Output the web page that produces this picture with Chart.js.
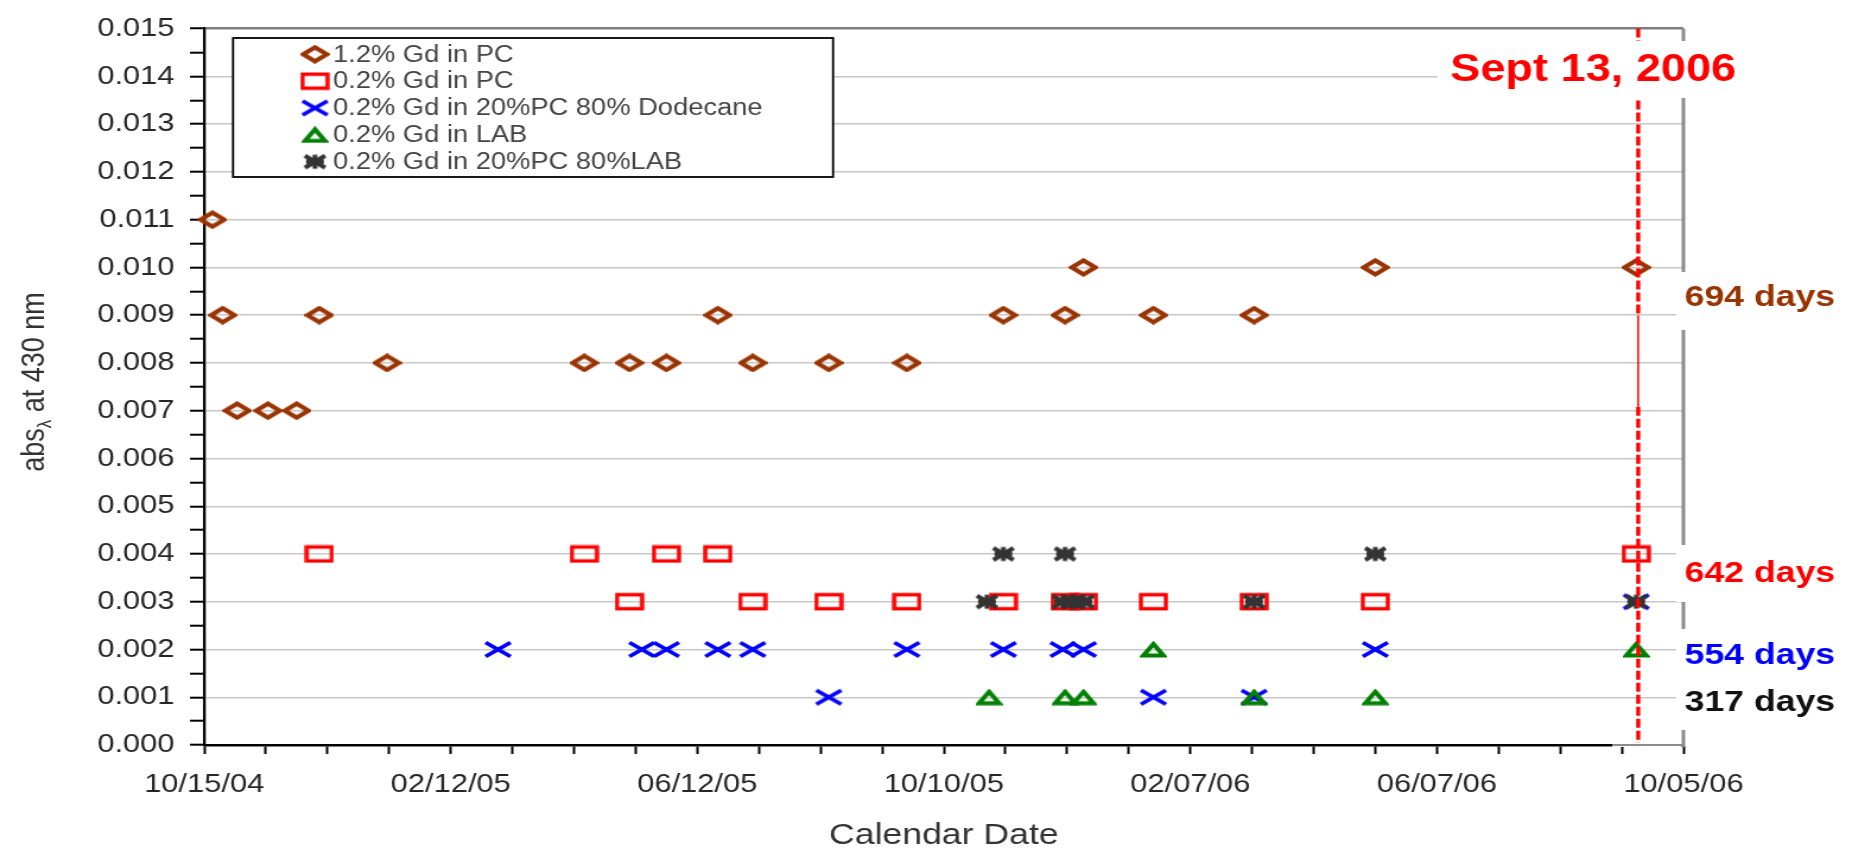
<!DOCTYPE html>
<html>
<head>
<meta charset="utf-8">
<title>Absorbance at 430 nm vs calendar date</title>
<script src="https://cdn.jsdelivr.net/npm/chart.js@4.4.1/dist/chart.umd.min.js"></script>
<style>
  html, body { margin: 0; padding: 0; background: #fff; overflow: hidden; }
</style>
</head>
<body>
<!-- the original picture is stretched sideways, so the canvas is drawn narrow and widened by its inline style -->
<canvas id="chart" width="1560" height="850" style="display:block;width:1852px;height:850px"></canvas>
<script>
// Measurement dates (MM/DD/YY) and abs at 430 nm, one pair of lists per sample
const pc12Dates = ['10/19/04', '10/24/04', '10/31/04', '11/15/04', '11/29/04', '12/10/04', '01/12/05',
                   '04/18/05', '05/10/05', '05/28/05', '06/22/05', '07/09/05', '08/15/05', '09/22/05',
                   '11/08/05', '12/08/05', '12/17/05', '01/20/06', '03/10/06', '05/08/06', '09/12/06'];
const pc12Abs = [0.011, 0.009, 0.007, 0.007, 0.007, 0.009, 0.008,
                 0.008, 0.008, 0.008, 0.009, 0.008, 0.008, 0.008,
                 0.009, 0.009, 0.010, 0.009, 0.009, 0.010, 0.010];

const pc02Dates = ['12/10/04', '04/18/05', '05/10/05', '05/28/05', '06/22/05', '07/09/05', '08/15/05',
                   '09/22/05', '11/08/05', '12/08/05', '12/17/05', '01/20/06', '03/10/06', '05/08/06',
                   '09/12/06'];
const pc02Abs = [0.004, 0.004, 0.003, 0.004, 0.004, 0.003, 0.003,
                 0.003, 0.003, 0.003, 0.003, 0.003, 0.003, 0.003,
                 0.004];

const dodDates = ['03/07/05', '05/16/05', '05/28/05', '06/22/05', '07/09/05', '08/15/05', '09/22/05',
                  '11/08/05', '12/07/05', '12/17/05', '01/20/06', '03/10/06', '05/08/06', '09/12/06'];
const dodAbs = [0.002, 0.002, 0.002, 0.002, 0.002, 0.001, 0.002,
                0.002, 0.002, 0.002, 0.001, 0.001, 0.002, 0.003];

const labDates = ['11/01/05', '12/08/05', '12/17/05', '01/20/06', '03/10/06', '05/08/06', '09/12/06'];
const labAbs = [0.001, 0.001, 0.001, 0.002, 0.001, 0.001, 0.002];

const mixDates = ['10/31/05', '11/08/05', '12/08/05', '12/07/05', '12/12/05', '12/17/05',
                  '03/10/06', '05/08/06', '09/12/06'];
const mixAbs = [0.003, 0.004, 0.004, 0.003, 0.003, 0.003, 0.003, 0.004, 0.003];

const seriesLabels = ['1.2% Gd in PC', '0.2% Gd in PC', '0.2% Gd in 20%PC 80% Dodecane',
                      '0.2% Gd in LAB', '0.2% Gd in 20%PC 80%LAB'];
const xTickDates = ['10/15/04', '02/12/05', '06/12/05', '10/10/05', '02/07/06', '06/07/06', '10/05/06'];
const cutoffDate = '09/13/06';
const cutoffLabel = 'Sept 13, 2006';
const lifetimeLabels = ['694 days', '642 days', '554 days', '317 days'];

const FONT = "'Liberation Sans', Arial, sans-serif";
const startMs = Date.UTC(2004, 9, 15);

// date string -> days since the first tick date
function dayOf(s) {
    const [m, d, y] = s.split('/').map(Number);
    return Math.round((Date.UTC(2000 + y, m - 1, d) - startMs) / 86400000);
}
function pad2(n) { return String(n).padStart(2, '0'); }
function dateLabel(days) {
    const dt = new Date(startMs + days * 86400000);
    return pad2(dt.getUTCMonth() + 1) + '/' + pad2(dt.getUTCDate()) + '/' + pad2(dt.getUTCFullYear() % 100);
}

// marker images (wider than tall, like the reference)
function makeMarker(kind, color) {
    const c = document.createElement('canvas');
    const w = kind === 'triangle' ? 23 : 25;
    const h = kind === 'triangle' ? 17 : 19;
    c.width = w; c.height = h;
    const g = c.getContext('2d');
    g.strokeStyle = color;
    g.lineWidth = 4.2;
    g.beginPath();
    if (kind === 'diamond') {
        g.moveTo(w / 2, 2.5); g.lineTo(w - 2.5, h / 2); g.lineTo(w / 2, h - 2.5); g.lineTo(2.5, h / 2); g.closePath();
    } else if (kind === 'square') {
        g.lineWidth = 3.4;
        g.rect(2, 2.5, w - 4, h - 5);
    } else if (kind === 'cross') {
        g.lineWidth = 3.8;
        g.moveTo(2, 2.5); g.lineTo(w - 2, h - 2.5); g.moveTo(w - 2, 2.5); g.lineTo(2, h - 2.5);
    } else if (kind === 'triangle') {
        g.lineWidth = 4;
        g.lineJoin = 'miter';
        g.moveTo(w / 2, 3); g.lineTo(w - 3, h - 2.5); g.lineTo(3, h - 2.5); g.closePath();
    } else if (kind === 'star') {
        g.lineWidth = 4;
        g.moveTo(4, 3.5); g.lineTo(w - 4, h - 3.5); g.moveTo(w - 4, 3.5); g.lineTo(4, h - 3.5);
        g.moveTo(w / 2, 2.5); g.lineTo(w / 2, h - 2.5);
        g.moveTo(5, h / 2); g.lineTo(w - 5, h / 2);
    }
    g.stroke();
    return c;
}

const markers = [
    makeMarker('diamond', '#993300'),
    makeMarker('square', '#ff0000'),
    makeMarker('cross', '#0000ff'),
    makeMarker('triangle', '#008000'),
    makeMarker('star', '#333333')
];

const seriesDates = [pc12Dates, pc02Dates, dodDates, labDates, mixDates];
const seriesAbs = [pc12Abs, pc02Abs, dodAbs, labAbs, mixAbs];

const datasets = seriesLabels.map((label, i) => ({
    label: label,
    data: seriesDates[i].map((d, j) => ({ x: dayOf(d), y: seriesAbs[i][j] })),
    pointStyle: markers[i],
    pointRadius: 10,
    showLine: false,
    clip: false,
    order: 5 - i   // later series on top, as in the original
}));

const majorDays = xTickDates.map(dayOf);
const isMajorY = v => Math.abs(v * 1000 - Math.round(v * 1000)) < 1e-6;

const overlay = {
    id: 'overlay',
    afterDatasetsDraw(chart) {
        const ctx = chart.ctx;
        const area = chart.chartArea;
        const xs = chart.scales.x;
        const ys = chart.scales.y;
        ctx.save();

        // cut-off date line
        const xc = xs.getPixelForValue(dayOf(cutoffDate));
        ctx.strokeStyle = '#ff0000';
        ctx.lineWidth = 3.4;
        ctx.setLineDash([9, 3]);
        ctx.beginPath();
        ctx.moveTo(xc, area.top); ctx.lineTo(xc, ys.getPixelForValue(0.009));
        ctx.moveTo(xc, ys.getPixelForValue(0.00708)); ctx.lineTo(xc, area.bottom);
        ctx.stroke();
        ctx.setLineDash([]);
        ctx.lineWidth = 1.5;
        ctx.beginPath();
        ctx.moveTo(xc, ys.getPixelForValue(0.009)); ctx.lineTo(xc, ys.getPixelForValue(0.00708));
        ctx.stroke();

        // right frame
        ctx.strokeStyle = '#8c8c8c';
        ctx.lineWidth = 3;
        ctx.beginPath();
        ctx.moveTo(area.right, area.top); ctx.lineTo(area.right, area.bottom + 2);
        ctx.stroke();
        // grey end of the bottom axis
        ctx.strokeStyle = '#fff';
        ctx.lineWidth = 4;
        ctx.beginPath();
        ctx.moveTo(area.right - 60, area.bottom); ctx.lineTo(area.right - 2, area.bottom);
        ctx.stroke();
        ctx.strokeStyle = '#8c8c8c';
        ctx.lineWidth = 2;
        ctx.beginPath();
        ctx.moveTo(area.right - 60, area.bottom); ctx.lineTo(area.right, area.bottom);
        ctx.stroke();

        // date caption
        ctx.fillStyle = '#fff';
        ctx.fillRect(1211, 41, 259, 57);
        ctx.fillStyle = '#ff0000';
        ctx.font = 'bold 38px ' + FONT;
        ctx.textAlign = 'center';
        ctx.textBaseline = 'alphabetic';
        ctx.fillText(cutoffLabel, 1342, 81);

        // lifetime labels at the right
        ctx.fillStyle = '#fff';
        ctx.fillRect(1412, 272, 148, 58);
        ctx.fillRect(1412, 545, 148, 57);
        ctx.fillRect(1412, 629, 148, 101);
        const lifeColors = ['#993300', '#ff0000', '#0000ff', '#111111'];
        const lifeBase = [306, 582, 664, 711];
        ctx.font = 'bold 30px ' + FONT;
        ctx.textAlign = 'left';
        lifetimeLabels.forEach((t, i) => {
            ctx.fillStyle = lifeColors[i];
            ctx.fillText(t, 1419, lifeBase[i]);
        });

        // legend box
        ctx.fillStyle = '#fff';
        ctx.fillRect(196.3, 38, 505.4, 139);
        ctx.strokeStyle = '#000';
        ctx.lineWidth = 1.8;
        ctx.strokeRect(196.3, 38, 505.4, 139);
        ctx.font = '23px ' + FONT;
        ctx.textBaseline = 'middle';
        ctx.fillStyle = '#444';
        seriesLabels.forEach((t, i) => {
            const y = 54.3 + i * 26.85;
            const m = markers[i];
            ctx.drawImage(m, 265.3 - m.width / 2, y - m.height / 2);
            ctx.fillText(t, 280.5, y + 1);
        });

        // axis titles
        ctx.fillStyle = '#333';
        ctx.textBaseline = 'alphabetic';
        ctx.textAlign = 'center';
        ctx.font = '30px ' + FONT;
        ctx.fillText('Calendar Date', (area.left + area.right) / 2, 844);

        ctx.save();
        ctx.translate(29.5, 382);
        ctx.rotate(-Math.PI / 2);
        ctx.textAlign = 'left';
        ctx.textBaseline = 'middle';
        const big = '27px ' + FONT, small = '17px ' + FONT;
        ctx.font = big;
        const w1 = ctx.measureText('abs').width;
        const w3 = ctx.measureText(' at 430 nm').width;
        ctx.font = small;
        const w2 = ctx.measureText('\u03bb').width;
        let x0 = -(w1 + w2 + w3) / 2;
        ctx.font = big;
        ctx.fillText('abs', x0, 0);
        ctx.font = small;
        ctx.fillText('\u03bb', x0 + w1, 9);
        ctx.font = big;
        ctx.fillText(' at 430 nm', x0 + w1 + w2, 0);
        ctx.restore();

        ctx.restore();
    }
};

new Chart(document.getElementById('chart'), {
    type: 'scatter',
    data: { datasets: datasets },
    options: {
        responsive: false,
        maintainAspectRatio: false,
        devicePixelRatio: 1,
        animation: false,
        events: [],
        layout: { padding: { left: 0, right: 142, top: 20, bottom: 0 } },
        plugins: {
            legend: { display: false },
            tooltip: { enabled: false },
            title: { display: false }
        },
        scales: {
            x: {
                type: 'linear',
                min: majorDays[0],
                max: majorDays[majorDays.length - 1],
                afterFit: s => { s.height = 105; },
                border: { display: true, color: '#000', width: 2.5 },
                grid: {
                    drawOnChartArea: false,
                    drawTicks: true,
                    tickLength: 9,
                    tickColor: '#000',
                    tickWidth: 2
                },
                ticks: {
                    stepSize: 30,
                    autoSkip: false,
                    maxRotation: 0,
                    padding: 15,
                    color: '#262626',
                    font: { family: FONT, size: 26 },
                    callback: v => majorDays.includes(v) ? dateLabel(v) : ''
                }
            },
            y: {
                min: 0,
                max: 0.015,
                afterFit: s => { s.width = 172; },
                border: { display: true, color: '#000', width: 2.3 },
                grid: {
                    color: c => {
                        const v = c.tick ? c.tick.value : 0;
                        if (Math.abs(v - 0.015) < 1e-9) return '#7f7f7f';
                        if (v < 1e-9) return 'rgba(0,0,0,0)';
                        return isMajorY(v) ? '#c8c8c8' : 'rgba(0,0,0,0)';
                    },
                    lineWidth: c => (c.tick && Math.abs(c.tick.value - 0.015) < 1e-9) ? 2.5 : 1.4,
                    tickLength: 12,
                    tickColor: '#000',
                    tickWidth: 2
                },
                ticks: {
                    stepSize: 0.0005,
                    autoSkip: false,
                    padding: 13,
                    color: '#262626',
                    font: { family: FONT, size: 26 },
                    callback: v => isMajorY(v) ? v.toFixed(3) : ''
                }
            }
        }
    },
    plugins: [overlay]
});
</script>
</body>
</html>
